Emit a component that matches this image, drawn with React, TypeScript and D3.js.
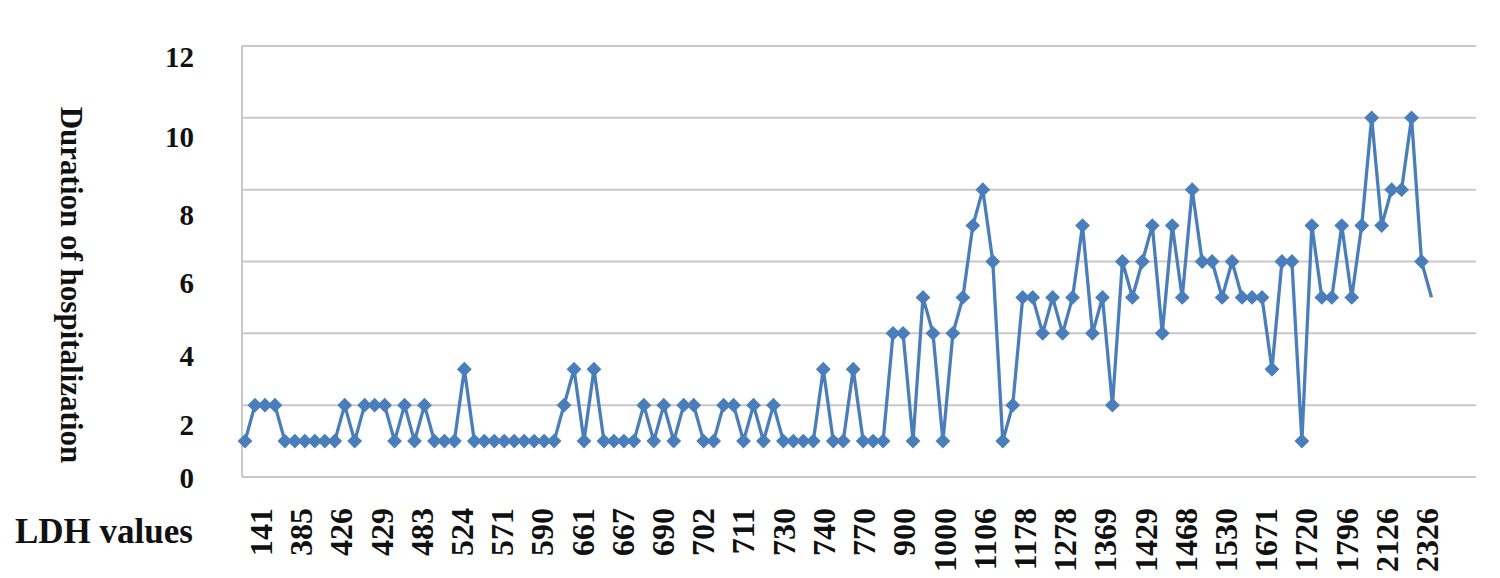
import React, { useEffect, useRef } from 'react';
import * as d3 from 'd3';

// Duration of hospitalization (days) for each patient, sorted by LDH value
const durations = [
  1, 2, 2, 2, 1, 1, 1, 1, 1, 1, 2, 1, 2, 2, 2, 1, 2, 1, 2, 1,
  1, 1, 3, 1, 1, 1, 1, 1, 1, 1, 1, 1, 2, 3, 1, 3, 1, 1, 1, 1,
  2, 1, 2, 1, 2, 2, 1, 1, 2, 2, 1, 2, 1, 2, 1, 1, 1, 1, 3, 1,
  1, 3, 1, 1, 1, 4, 4, 1, 5, 4, 1, 4, 5, 7, 8, 6, 1, 2, 5, 5,
  4, 5, 4, 5, 7, 4, 5, 2, 6, 5, 6, 7, 4, 7, 5, 8, 6, 6, 5, 6,
  5, 5, 5, 3, 6, 6, 1, 7, 5, 5, 7, 5, 7, 10, 7, 8, 8, 10, 6, 5,
];

// LDH values shown on the category axis (every 4th patient)
const ldhLabels = [
  '141', '385', '426', '429', '483', '524', '571', '590', '661', '667',
  '690', '702', '711', '730', '740', '770', '900', '1000', '1106', '1178',
  '1278', '1369', '1429', '1468', '1530', '1671', '1720', '1796', '2126', '2326',
];

const yTicks = [0, 2, 4, 6, 8, 10, 12];

const App: React.FC = () => {
  const svgRef = useRef<SVGSVGElement>(null);

  useEffect(() => {
    if (!svgRef.current) return;
    const svg = d3.select(svgRef.current);
    svg.selectAll('*').remove();

    const width = 1500;
    const height = 578;
    const plot = { left: 242, right: 1476, top: 46, bottom: 477 };
    const serif = '"Liberation Serif", "Times New Roman", serif';
    const blue = '#4a7ebb';

    svg.append('rect').attr('width', width).attr('height', height).attr('fill', '#fff');

    const x = d3.scaleLinear()
      .domain([0, durations.length - 1])
      .range([245, 1431.5]);

    const y = d3.scaleLinear()
      .domain([0, 12])
      .range([plot.bottom, plot.top]);

    // label positions on the axes (labels sit a bit off the gridlines, as in the source)
    const xLabel = d3.scaleLinear()
      .domain([0, ldhLabels.length - 1])
      .range([261, 1427]);
    const yLabel = d3.scaleLinear()
      .domain(yTicks)
      .range([478, 425, 356, 283, 215, 137, 57]);

    // gridlines
    svg.append('g')
      .selectAll('line')
      .data(yTicks)
      .enter()
      .append('line')
      .attr('x1', plot.left)
      .attr('x2', plot.right)
      .attr('y1', d => y(d))
      .attr('y2', d => y(d))
      .attr('stroke', '#c8c8c8')
      .attr('stroke-width', 2);

    svg.append('line')
      .attr('x1', plot.left)
      .attr('x2', plot.left)
      .attr('y1', y(0))
      .attr('y2', y(12))
      .attr('stroke', '#c8c8c8')
      .attr('stroke-width', 2);

    // y tick labels
    svg.append('g')
      .selectAll('text')
      .data(yTicks)
      .enter()
      .append('text')
      .attr('x', 194)
      .attr('y', d => yLabel(d))
      .attr('text-anchor', 'end')
      .attr('dominant-baseline', 'central')
      .attr('font-family', serif)
      .attr('font-weight', 'bold')
      .attr('font-size', 29)
      .attr('fill', '#111')
      .text(d => d);

    // x tick labels, rotated
    svg.append('g')
      .selectAll('text')
      .data(ldhLabels)
      .enter()
      .append('text')
      .attr('transform', (_, i) => `translate(${xLabel(i)}, 508) rotate(-90)`)
      .attr('text-anchor', 'end')
      .attr('dominant-baseline', 'central')
      .attr('font-family', serif)
      .attr('font-weight', 'bold')
      .attr('font-size', 32)
      .attr('fill', '#111')
      .text(d => d);

    // axis titles
    svg.append('text')
      .attr('transform', 'translate(71, 285) rotate(90)')
      .attr('text-anchor', 'middle')
      .attr('dominant-baseline', 'central')
      .attr('font-family', serif)
      .attr('font-weight', 'bold')
      .attr('font-size', 31)
      .attr('fill', '#111')
      .text('Duration of hospitalization');

    svg.append('text')
      .attr('x', 15)
      .attr('y', 543)
      .attr('font-family', serif)
      .attr('font-weight', 'bold')
      .attr('font-size', 35)
      .attr('fill', '#111')
      .text('LDH values');

    // series line
    const line = d3.line<number>()
      .x((_, i) => x(i))
      .y(d => y(d));

    svg.append('path')
      .datum(durations)
      .attr('d', line)
      .attr('fill', 'none')
      .attr('stroke', blue)
      .attr('stroke-width', 3.3)
      .attr('stroke-linejoin', 'round');

    // diamond markers (last point has none)
    const diamond = d3.symbol().type(d3.symbolSquare).size(110);
    svg.append('g')
      .selectAll('path')
      .data(durations.slice(0, -1))
      .enter()
      .append('path')
      .attr('d', diamond)
      .attr('transform', (d, i) => `translate(${x(i)}, ${y(d)}) rotate(45)`)
      .attr('fill', blue);
  }, []);

  return (
    <div style={{ position: 'absolute', left: 0, top: 0 }}>
      <svg ref={svgRef} width={1500} height={578} viewBox="0 0 1500 578" style={{ display: 'block' }} />
    </div>
  );
};

export default App;
